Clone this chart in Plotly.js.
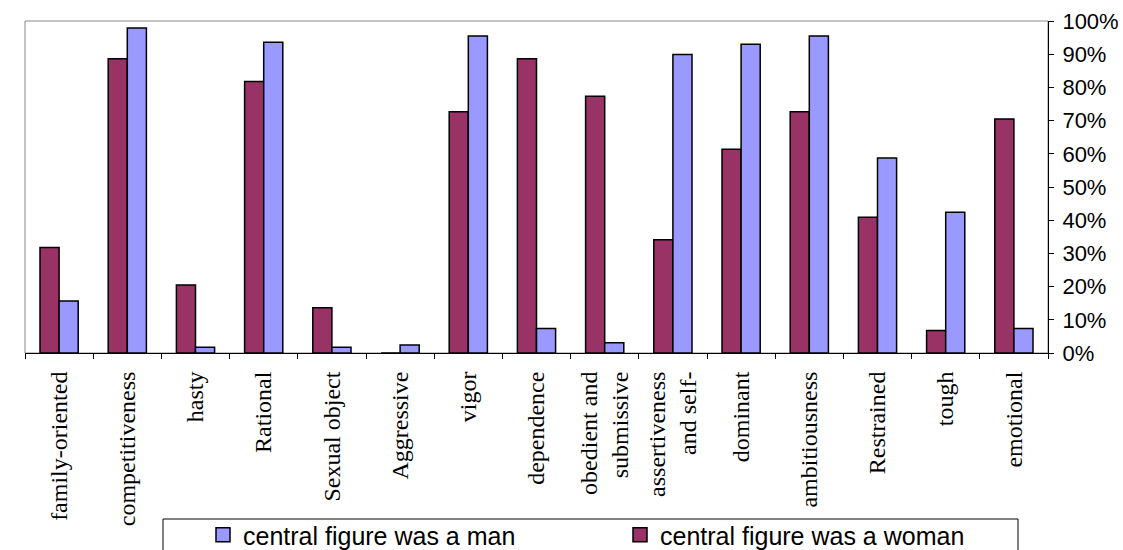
<!DOCTYPE html>
<html>
<head>
<meta charset="utf-8">
<script src="https://cdn.plot.ly/plotly-3.0.1.min.js"></script>
<style>html,body{margin:0;padding:0;background:#fff;}#chart{width:1123px;height:550px;}</style>
</head>
<body>
<div id="chart"></div>
<script>
const categories = ["family-oriented","competitiveness","hasty","Rational","Sexual object","Aggressive","vigor","dependence","obedient and<br>submissive","assertiveness<br>and self-","dominant","ambitiousness","Restrained","tough","emotional"];
const womanValues = [0.318,0.886,0.205,0.818,0.136,0,0.727,0.886,0.773,0.341,0.614,0.727,0.409,0.068,0.705];
const manValues = [0.157,0.979,0.017,0.936,0.017,0.024,0.955,0.074,0.031,0.899,0.930,0.955,0.587,0.424,0.074];
const yTickValues = [0,0.1,0.2,0.3,0.4,0.5,0.6,0.7,0.8,0.9,1];
const yTickLabels = ["0%","10%","20%","30%","40%","50%","60%","70%","80%","90%","100%"];
const seriesNames = ["central figure was a woman","central figure was a man"];
const seriesColors = ["#993366","#9999FF"];

const traces = [
  {type:'bar', name:seriesNames[0], x:categories, y:womanValues, showlegend:false,
   marker:{color:seriesColors[0], line:{color:'#000', width:1.5}}},
  {type:'bar', name:seriesNames[1], x:categories, y:manValues, showlegend:false,
   marker:{color:seriesColors[1], line:{color:'#000', width:1.5}}},
  {type:'scatter', mode:'markers', name:seriesNames[1], x:[null], y:[null], legendrank:1,
   marker:{symbol:'square', size:14, color:seriesColors[1], line:{color:'#000', width:1.5}}},
  {type:'scatter', mode:'markers', name:seriesNames[0], x:[null], y:[null], legendrank:2,
   marker:{symbol:'square', size:14, color:seriesColors[0], line:{color:'#000', width:1.5}}}
];

const layout = {
  width:1123, height:550,
  margin:{l:25, r:75, t:21, b:197, autoexpand:false},
  paper_bgcolor:'#fff', plot_bgcolor:'#fff',
  barmode:'group', bargap:0.44, bargroupgap:0,
  showlegend:true,
  legend:{orientation:'h', xref:'container', yref:'container', x:203/1123, y:1-512/550,
          xanchor:'left', yanchor:'top', bgcolor:'rgba(0,0,0,0)', borderwidth:0,
          entrywidth:372, entrywidthmode:'pixels',
          font:{family:'Liberation Sans, Arial, sans-serif', size:25, color:'#000'}},
  xaxis:{type:'category', showline:true, linecolor:'#000', linewidth:1,
         ticks:'outside', tickson:'boundaries', ticklen:5, tickcolor:'#000', tickwidth:1,
         tickangle:-90, ticklabelstandoff:8,
         tickfont:{family:'Liberation Serif, Times New Roman, serif', size:24, color:'#000'},
         showgrid:false, zeroline:false, fixedrange:true},
  yaxis:{side:'right', range:[0,1], tickvals:yTickValues, ticktext:yTickLabels,
         showline:true, linecolor:'#000', linewidth:1,
         ticks:'outside', ticklen:5, tickcolor:'#000', ticklabelstandoff:4,
         tickfont:{family:'Liberation Sans, Arial, sans-serif', size:22, color:'#000'},
         showgrid:false, zeroline:false, fixedrange:true},
  shapes:[
    {type:'rect', xref:'paper', yref:'paper', x0:0, x1:1, y0:0, y1:1, layer:'below',
     line:{color:'#888', width:1}, fillcolor:'rgba(0,0,0,0)'},
    {type:'rect', xref:'paper', yref:'paper', x0:(163-25)/1023, x1:(1018-25)/1023,
     y0:(353-580)/332, y1:(353-519)/332, line:{color:'#000', width:1}, fillcolor:'rgba(0,0,0,0)'}
  ]
};

Plotly.newPlot('chart', traces, layout, {displayModeBar:false, staticPlot:true});
</script>
</body>
</html>
